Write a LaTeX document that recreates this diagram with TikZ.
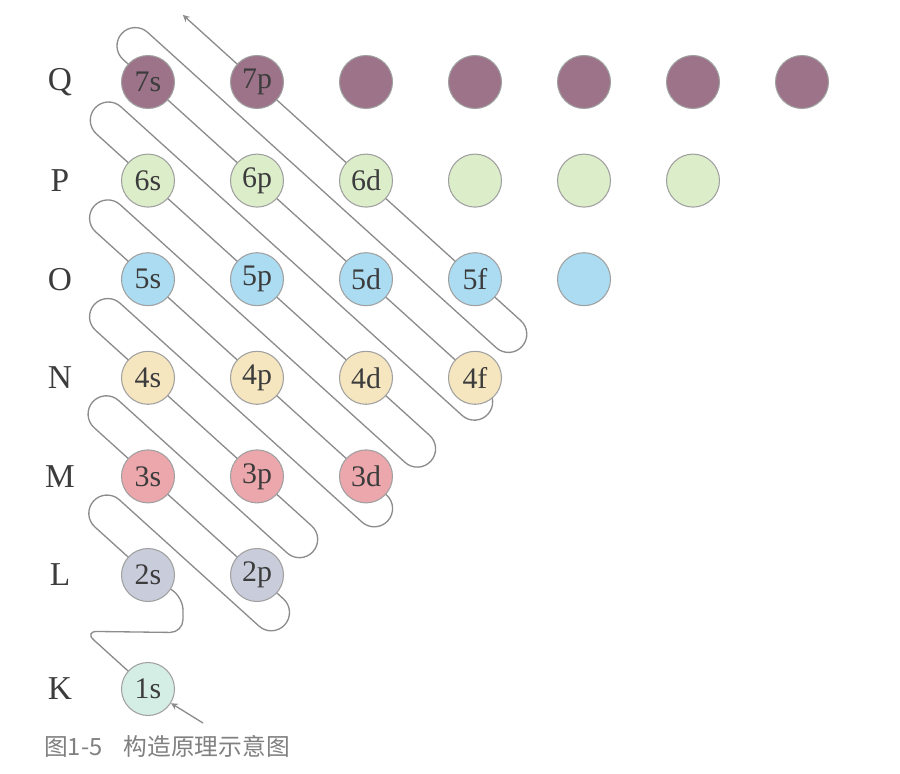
\documentclass[tikz,border=0pt]{standalone}
\usepackage{fontspec}
\setmainfont{Liberation Serif}
\newfontfamily\cjk{Noto Sans CJK SC}
\usepackage{tikz}
\usetikzlibrary{calc,backgrounds}
\definecolor{orbQ}{HTML}{9C7388}
\definecolor{orbP}{HTML}{DCEDCA}
\definecolor{orbO}{HTML}{ABDCF2}
\definecolor{orbN}{HTML}{F5E6C0}
\definecolor{orbM}{HTML}{ECA7AC}
\definecolor{orbL}{HTML}{C9CCDB}
\definecolor{orbK}{HTML}{D5EEE5}
\definecolor{inkgray}{HTML}{3C3C3C}
\definecolor{pathgray}{HTML}{8C8C8C}
\definecolor{rimgray}{HTML}{A0A0A0}
\definecolor{capgray}{HTML}{808080}

\begin{document}
\begin{tikzpicture}[
    x=0.02cm, y=-0.02cm, >=stealth,
    orb/.style={circle, draw=rimgray, line width=0.6pt, minimum size=1.06cm, inner sep=0pt, text=inkgray, font=\fontsize{17}{17}\selectfont},
    shell/.style={text=inkgray, font=\fontsize{19}{19}\selectfont},
    snake/.style={draw=pathgray, line width=0.75pt}
]
\useasboundingbox (0,0) rectangle (900,774);

% Shells and orbitals
\foreach \n/\y/\c/\sh in {1/689/orbK/K, 2/575/orbL/L, 3/476.4/orbM/M, 4/377.8/orbN/N, 5/279.2/orbO/O, 6/180.6/orbP/P, 7/82/orbQ/Q} {
    \node[shell] (sh\sh) at (60,\y) {\sh};
    \foreach \l [count=\i from 0] in {s,p,d,f,g,h,i} {
        \pgfmathtruncatemacro\k{\n+\i}
        \ifnum\i<\n
            \ifnum\k>8 \def\olab{}\else\edef\olab{\n\l}\fi
            \node[orb, fill=\c] (o\n\l) at (148+109*\i,\y) {\olab};
        \fi
    }
}

% Filling order
\coordinate (dir) at (0.7416,0.6708);
\coordinate (nrm) at (0.6708,-0.7416);
\begin{scope}[on background layer]
\fill[white] (0,0) rectangle (900,774);
\draw[snake, ->, rounded corners=0.26cm] (o1s.center) -- ($(o1s)-86*(dir)$)
    -- ($(o2s)+(35,57.6)$) -- ($(o2s)+(35,22)$) -- (o2s.center)
    [rounded corners=0.366cm]
    \foreach \t/\a/\b/\m in {o2s/90/o2p/54, o3s/91/o3p/92, o4s/89/o3d/46, o5s/89/o4d/104, o6s/88/o4f/34, o7s/52/o5f/80} {
        -- ($(\t)-\a*(dir)$) -- ($(\t)-\a*(dir)+36.56*(nrm)$)
        -- ($(\b)+\m*(dir)-36.56*(nrm)$) -- ($(\b)+\m*(dir)$)
    }
    -- ($(o7p)-100*(dir)$);
\end{scope}

% Entry arrow
\coordinate (entry) at (203,723);
\draw[snake, ->] (entry) -- (o1s);

% Caption
\node[anchor=west, text=capgray, font=\cjk\fontsize{13.5}{14}\selectfont] (cap) at (38,746) {图1-5\hspace{0.9em}构造原理示意图};

\end{tikzpicture}
\end{document}
